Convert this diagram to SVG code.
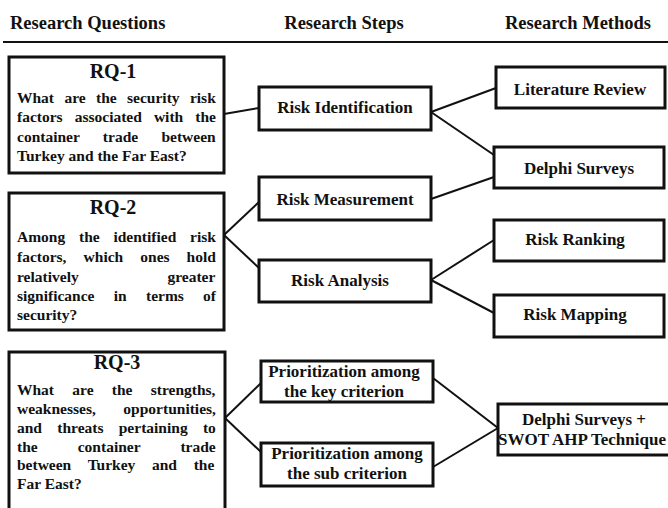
<svg xmlns="http://www.w3.org/2000/svg" width="668" height="508" viewBox="0 0 668 508">
<style>
text{font-family:"Liberation Serif","Times New Roman",serif;font-weight:bold;fill:#111}
.hd{font-size:18.5px}
.ti{font-size:20px;text-anchor:middle}
.bd{font-size:15.5px}
.lb{font-size:17px;text-anchor:middle}
.st{text-anchor:start}
.box{fill:#fff;stroke:#111;stroke-width:3}
#connectors line{stroke:#111;stroke-width:2}
</style>
<rect width="668" height="508" fill="#fff"/>
<g id="header">
<text class="hd" x="10" y="29">Research Questions</text>
<text class="hd" x="344" y="29" text-anchor="middle">Research Steps</text>
<text class="hd" x="578" y="29" text-anchor="middle">Research Methods</text>
<line x1="3" y1="42" x2="668" y2="42" stroke="#111" stroke-width="2"/>
</g>
<g id="connectors">
<line x1="224" y1="114" x2="259" y2="108"/>
<line x1="224" y1="235" x2="259" y2="202"/>
<line x1="224" y1="235" x2="259" y2="268"/>
<line x1="225" y1="418" x2="261" y2="383"/>
<line x1="225" y1="418" x2="261" y2="452"/>
<line x1="431" y1="112" x2="496" y2="88"/>
<line x1="431" y1="112" x2="494" y2="155"/>
<line x1="431" y1="199" x2="494" y2="177"/>
<line x1="431" y1="280" x2="494" y2="240"/>
<line x1="431" y1="280" x2="494" y2="313"/>
<line x1="433" y1="378" x2="498" y2="428"/>
<line x1="433" y1="467" x2="498" y2="428"/>
</g>
<g id="rq1">
<rect class="box" x="9" y="57" width="215" height="116"/>
<text class="ti" x="113" y="78">RQ-1</text>
<text class="bd" x="17" y="103" word-spacing="6.5">What are the security risk</text>
<text class="bd" x="17" y="122" word-spacing="8.2">factors associated with the</text>
<text class="bd" x="17" y="142" word-spacing="19.4">container trade between</text>
<text class="bd" x="17" y="161">Turkey and the Far East?</text>
</g>
<g id="rq2">
<rect class="box" x="9" y="193" width="215" height="137"/>
<text class="ti" x="113" y="214">RQ-2</text>
<text class="bd" x="17" y="242" word-spacing="9.9">Among the identified risk</text>
<text class="bd" x="17" y="262" word-spacing="13.2">factors, which ones hold</text>
<text class="bd" x="17" y="282" word-spacing="84.9">relatively greater</text>
<text class="bd" x="17" y="301" word-spacing="15.4">significance in terms of</text>
<text class="bd" x="17" y="320">security?</text>
</g>
<g id="rq3">
<rect class="box" x="9" y="352" width="216" height="162"/>
<text class="ti" x="117" y="369">RQ-3</text>
<text class="bd" x="17" y="395" word-spacing="14.4">What are the strengths,</text>
<text class="bd" x="17" y="414" word-spacing="23.7">weaknesses, opportunities,</text>
<text class="bd" x="17" y="433" word-spacing="11.4">and threats pertaining to</text>
<text class="bd" x="17" y="452" word-spacing="36.2">the container trade</text>
<text class="bd" x="17" y="470" word-spacing="12.8">between Turkey and the</text>
<text class="bd" x="17" y="489">Far East?</text>
</g>
<g id="risk-identification">
<rect class="box" x="259" y="87" width="172" height="43"/>
<text class="lb" x="345" y="113">Risk Identification</text>
</g>
<g id="risk-measurement">
<rect class="box" x="259" y="177" width="172" height="43"/>
<text class="lb" x="345" y="205">Risk Measurement</text>
</g>
<g id="risk-analysis">
<rect class="box" x="259" y="260" width="172" height="42"/>
<text class="lb" x="340" y="286">Risk Analysis</text>
</g>
<g id="prio-key">
<rect class="box" x="261" y="361" width="172" height="41"/>
<text class="lb" x="344" y="377">Prioritization among</text>
<text class="lb" x="344" y="397">the key criterion</text>
</g>
<g id="prio-sub">
<rect class="box" x="261" y="443" width="172" height="43"/>
<text class="lb" x="347" y="459">Prioritization among</text>
<text class="lb" x="347" y="479">the sub criterion</text>
</g>
<g id="literature-review">
<rect class="box" x="496" y="67" width="169" height="41"/>
<text class="lb" x="580" y="95">Literature Review</text>
</g>
<g id="delphi-surveys">
<rect class="box" x="494" y="147" width="170" height="41"/>
<text class="lb" x="579" y="174">Delphi Surveys</text>
</g>
<g id="risk-ranking">
<rect class="box" x="494" y="220" width="170" height="41"/>
<text class="lb" x="575" y="245">Risk Ranking</text>
</g>
<g id="risk-mapping">
<rect class="box" x="494" y="295" width="170" height="42"/>
<text class="lb" x="575" y="320">Risk Mapping</text>
</g>
<g id="delphi-swot">
<rect class="box" x="498" y="404" width="180" height="51"/>
<text class="lb" x="584" y="425">Delphi Surveys +</text>
<text class="lb" x="582" y="445" font-size="16.2">SWOT AHP Technique</text>
</g>
</svg>
